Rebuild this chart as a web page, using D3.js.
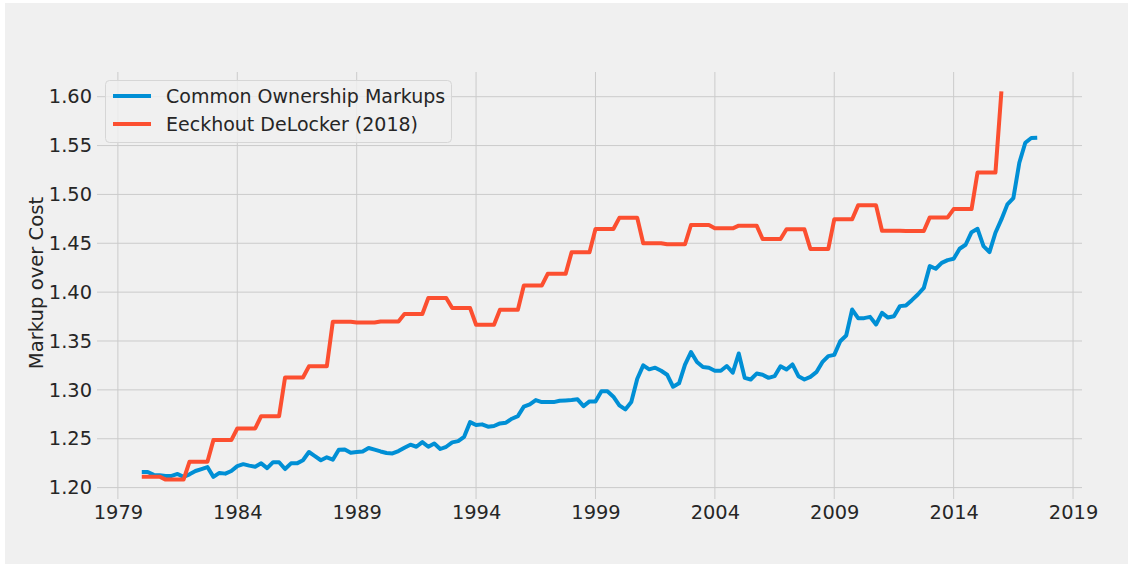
<!DOCTYPE html>
<html>
<head>
    <title>Markup over Cost</title>
    <script src="https://d3js.org/d3.v7.min.js"></script>
    <style>
        body {
            margin: 0;
            padding: 0;
            background-color: #ffffff;
            font-family: 'DejaVu Sans', sans-serif;
        }
        .grid line {
            stroke: #cbcbcb;
            stroke-width: 1;
        }
        .tick-label {
            font-size: 19.4px;
            fill: #262626;
        }
        .legend-text {
            font-size: 19px;
            fill: #262626;
        }
    </style>
</head>
<body>
    <svg id="chart" width="1133" height="567"></svg>

    <script>
        // quarterly common ownership markups, 1980Q1 .. 2017Q3
        const startYear = 1980;
        const commonOwnership = [
            1.216, 1.216, 1.213, 1.2126, 1.212, 1.212, 1.214, 1.211,
            1.2136, 1.217, 1.219, 1.221, 1.211, 1.215, 1.2143, 1.217,
            1.222, 1.224, 1.2225, 1.2214, 1.2248, 1.220, 1.226, 1.226,
            1.219, 1.2248, 1.2248, 1.228, 1.2364, 1.2323, 1.228, 1.231,
            1.2286, 1.2388, 1.239, 1.2357, 1.2364, 1.237, 1.2405, 1.2388,
            1.237, 1.2354, 1.235, 1.2374, 1.2408, 1.2439, 1.2418, 1.2466,
            1.2418, 1.2452, 1.2395, 1.2418, 1.2463, 1.2476, 1.252, 1.267,
            1.264, 1.2647, 1.2623, 1.263, 1.2657, 1.2664, 1.2705, 1.2732,
            1.2828, 1.2852, 1.2896, 1.2875, 1.2875, 1.2875, 1.2889, 1.2892,
            1.2896, 1.2903, 1.2834, 1.2882, 1.2882, 1.2985, 1.2985, 1.293,
            1.2841, 1.280, 1.2875, 1.3114, 1.3251, 1.321, 1.3227, 1.3196,
            1.3155, 1.3032, 1.3067, 1.3258, 1.3387, 1.3285, 1.3234, 1.3227,
            1.3196, 1.3196, 1.3244, 1.3176, 1.3372, 1.3123, 1.3106, 1.3167,
            1.3154, 1.3123, 1.314, 1.3242, 1.3208, 1.326, 1.314, 1.3106,
            1.3133, 1.3181, 1.3283, 1.3345, 1.3358, 1.3498, 1.3556, 1.3822,
            1.3734, 1.3734, 1.3747, 1.3669, 1.3788, 1.374, 1.3754, 1.3857,
            1.3863, 1.3918, 1.3976, 1.4044, 1.4266, 1.4239, 1.43, 1.4328,
            1.4341, 1.4444, 1.4485, 1.4614, 1.4648, 1.4471, 1.441, 1.4608,
            1.4744, 1.4898, 1.4962, 1.5324, 1.5529, 1.5577, 1.558
        ];

        // annual Eeckhout DeLocker markups, 1980 .. 2016 (held for each quarter)
        const deLockerYears = d3.range(1980, 2017);
        const deLocker = [
            1.2112, 1.2082, 1.2265, 1.2486, 1.2605, 1.2731, 1.3126, 1.3241, 1.3697, 1.369,
            1.370, 1.3776, 1.394, 1.3837, 1.3666, 1.382, 1.4067, 1.4187, 1.4408, 1.4646,
            1.476, 1.450, 1.449, 1.4687, 1.4653, 1.468, 1.4544, 1.4643, 1.4442, 1.4745,
            1.4888, 1.4629, 1.4625, 1.4765, 1.485, 1.5224, 1.6054
        ];

        const xTicks = [1979, 1984, 1989, 1994, 1999, 2004, 2009, 2014, 2019];
        const yTicks = [1.20, 1.25, 1.30, 1.35, 1.40, 1.45, 1.50, 1.55, 1.60];
        const seriesNames = ["Common Ownership Markups", "Eeckhout DeLocker (2018)"];
        const seriesColors = ["#008fd5", "#fc4f30"];

        // build point lists
        var bluePts = commonOwnership.map((v, i) => ({x: startYear + i * 0.25, y: v}));
        var redPts = [];
        deLocker.forEach((v, i) => {
            const yr = deLockerYears[i];
            if (i == deLocker.length - 1) {
                redPts.push({x: yr, y: v});
            } else {
                [0, 0.25, 0.5, 0.75].forEach(q => redPts.push({x: yr + q, y: v}));
            }
        });

        const svg = d3.select("#chart");

        // figure background
        svg.append("rect")
            .attr("x", 5).attr("y", 3)
            .attr("width", 1123).attr("height", 561)
            .attr("fill", "#f0f0f0");

        const plotLeft = 97, plotRight = 1082, plotTop = 72, plotBottom = 499;

        const allPts = bluePts.concat(redPts);
        const xExt = d3.extent(allPts, d => d.x);
        const yExt = d3.extent(allPts, d => d.y);
        const xPad = (xExt[1] - xExt[0]) * 0.05;
        const yPad = (yExt[1] - yExt[0]) * 0.05;

        const x = d3.scaleLinear()
            .domain([xExt[0] - xPad, xExt[1] + xPad])
            .range([plotLeft, plotRight]);
        const y = d3.scaleLinear()
            .domain([yExt[0] - yPad, yExt[1] + yPad])
            .range([plotBottom, plotTop]);

        // grid
        const grid = svg.append("g").attr("class", "grid");
        grid.selectAll(".vline")
            .data(xTicks)
            .enter().append("line")
            .attr("x1", d => x(d)).attr("x2", d => x(d))
            .attr("y1", plotTop).attr("y2", plotBottom);
        grid.selectAll(".hline")
            .data(yTicks)
            .enter().append("line")
            .attr("x1", plotLeft).attr("x2", plotRight)
            .attr("y1", d => y(d)).attr("y2", d => y(d));

        // axes (ticks hidden, only labels)
        const xAxis = svg.append("g")
            .attr("transform", "translate(0," + plotBottom + ")")
            .call(d3.axisBottom(x).tickValues(xTicks).tickFormat(d3.format("d")).tickSize(0).tickPadding(4));
        const yAxis = svg.append("g")
            .attr("transform", "translate(" + plotLeft + ",0)")
            .call(d3.axisLeft(y).tickValues(yTicks).tickFormat(d3.format(".2f")).tickSize(0).tickPadding(5));
        [xAxis, yAxis].forEach(a => {
            a.select(".domain").remove();
            a.selectAll("text")
                .attr("class", "tick-label")
                .attr("font-family", "DejaVu Sans");
        });
        xAxis.selectAll("text").attr("dy", "0.85em");

        // y label
        svg.append("text")
            .attr("transform", "translate(43,283) rotate(-90)")
            .attr("text-anchor", "middle")
            .attr("font-size", "19.6px")
            .attr("fill", "#262626")
            .text("Markup over Cost");

        // lines
        const line = d3.line().x(d => x(d.x)).y(d => y(d.y));
        [bluePts, redPts].forEach((pts, i) => {
            svg.append("path")
                .datum(pts)
                .attr("fill", "none")
                .attr("stroke", seriesColors[i])
                .attr("stroke-width", 4)
                .attr("stroke-linejoin", "round")
                .attr("stroke-linecap", "butt")
                .attr("d", line);
        });

        // legend
        const legend = svg.append("g");
        legend.append("rect")
            .attr("x", 105.5).attr("y", 80.5)
            .attr("width", 346).attr("height", 62)
            .attr("rx", 4)
            .attr("fill", "#f0f0f0")
            .attr("fill-opacity", 0.8)
            .attr("stroke", "#d6d6d6")
            .attr("stroke-width", 1);
        seriesNames.forEach((name, i) => {
            const ly = 96 + i * 28;
            legend.append("line")
                .attr("x1", 113).attr("x2", 151)
                .attr("y1", ly).attr("y2", ly)
                .attr("stroke", seriesColors[i])
                .attr("stroke-width", 4);
            legend.append("text")
                .attr("class", "legend-text")
                .attr("x", 166).attr("y", ly + 7)
                .text(name);
        });
    </script>
</body>
</html>
